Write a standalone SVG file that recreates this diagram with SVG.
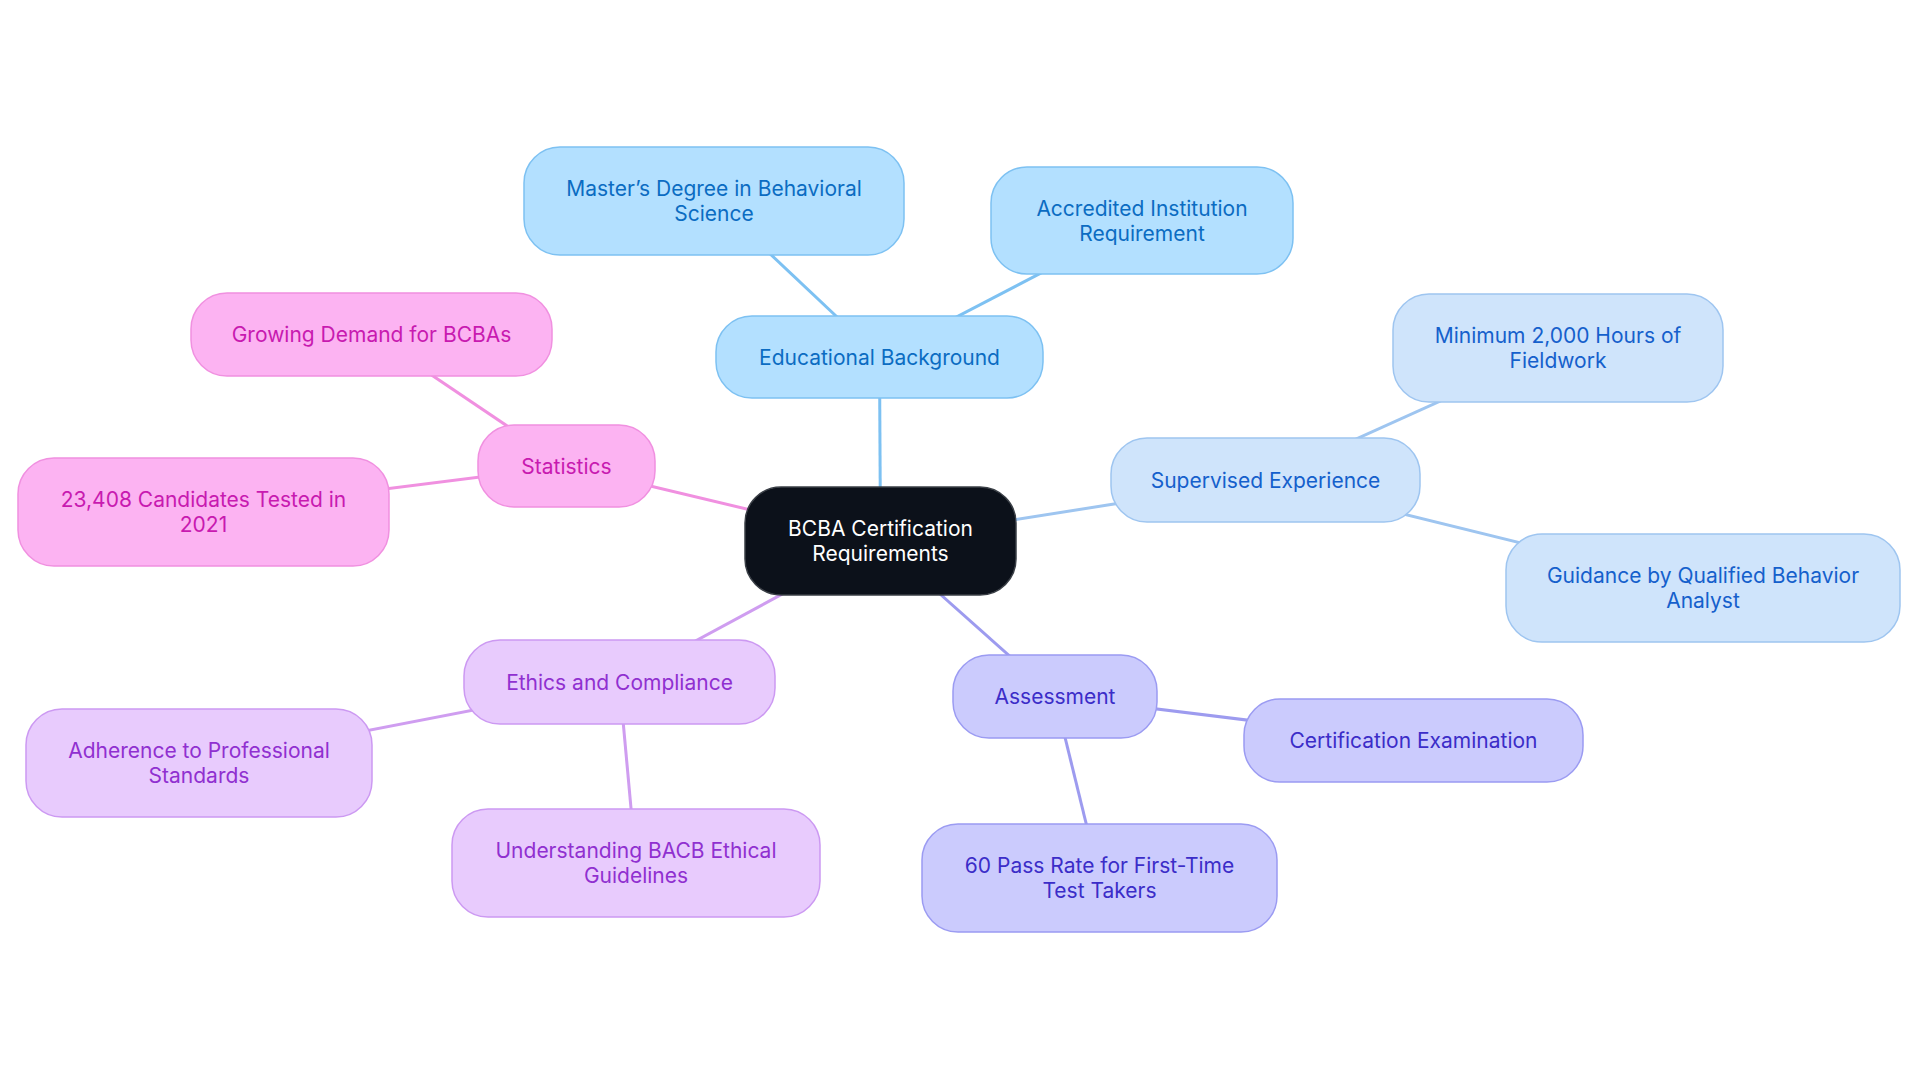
<svg xmlns="http://www.w3.org/2000/svg" width="1920" height="1083" viewBox="0 0 1920 1083">
<style>
text{font-family:Inter,"Noto Sans","Liberation Sans",sans-serif;font-size:21px;text-anchor:middle;dominant-baseline:central}
.c rect{fill:#0c111a;stroke:#3a3f46;stroke-width:1.5}
.c text{fill:#ffffff}
.e rect{fill:#b3e0ff;stroke:#7dc1f2;stroke-width:1.5}
.e text{fill:#0b6cc2}
.s rect{fill:#cfe4fb;stroke:#9ec5f0;stroke-width:1.5}
.s text{fill:#1560cc}
.a rect{fill:#cbcbfd;stroke:#9b9bf2;stroke-width:1.5}
.a text{fill:#3b2dc8}
.k rect{fill:#e8cbfd;stroke:#cc99f2;stroke-width:1.5}
.k text{fill:#9030d0}
.p rect{fill:#fcb3f2;stroke:#f090e0;stroke-width:1.5}
.p text{fill:#c81ab0}
#connectors line{stroke-width:3;fill:none}
</style>
<rect width="1920" height="1083" fill="#ffffff"/>
<g id="connectors">
<line x1="880.5" y1="541" x2="879.5" y2="357" stroke="#7dc1f2"/>
<line x1="879.5" y1="357" x2="714" y2="201" stroke="#7dc1f2"/>
<line x1="879.5" y1="357" x2="1142" y2="220.5" stroke="#7dc1f2"/>
<line x1="880.5" y1="541" x2="1265.5" y2="480" stroke="#9ec5f0"/>
<line x1="1265.5" y1="480" x2="1558" y2="348" stroke="#9ec5f0"/>
<line x1="1265.5" y1="480" x2="1703" y2="588" stroke="#9ec5f0"/>
<line x1="880.5" y1="541" x2="1055" y2="696.5" stroke="#9d9bef"/>
<line x1="1055" y1="696.5" x2="1413.5" y2="740.5" stroke="#9d9bef"/>
<line x1="1055" y1="696.5" x2="1099.5" y2="878" stroke="#9d9bef"/>
<line x1="880.5" y1="541" x2="619.5" y2="682" stroke="#cf9df0"/>
<line x1="619.5" y1="682" x2="199" y2="763" stroke="#cf9df0"/>
<line x1="619.5" y1="682" x2="636" y2="863" stroke="#cf9df0"/>
<line x1="880.5" y1="541" x2="566.5" y2="466" stroke="#f090e0"/>
<line x1="566.5" y1="466" x2="371.5" y2="334.5" stroke="#f090e0"/>
<line x1="566.5" y1="466" x2="203.5" y2="512" stroke="#f090e0"/>
</g>
<g id="n-center" class="c"><rect x="745" y="487" width="271" height="108" rx="36"/><text x="880.5" y="528.5">BCBA Certification</text><text x="880.5" y="553.5">Requirements</text></g>
<g id="n-edu" class="e"><rect x="716" y="316" width="327" height="82" rx="36"/><text x="879.5" y="357">Educational Background</text></g>
<g id="n-masters" class="e"><rect x="524" y="147" width="380" height="108" rx="36"/><text x="714" y="188.5">Master’s Degree in Behavioral</text><text x="714" y="213.5">Science</text></g>
<g id="n-accredited" class="e"><rect x="991" y="167" width="302" height="107" rx="36"/><text x="1142" y="208">Accredited Institution</text><text x="1142" y="233">Requirement</text></g>
<g id="n-supervised" class="s"><rect x="1111" y="438" width="309" height="84" rx="36"/><text x="1265.5" y="480">Supervised Experience</text></g>
<g id="n-minimum" class="s"><rect x="1393" y="294" width="330" height="108" rx="36"/><text x="1558" y="335.5">Minimum 2,000 Hours of</text><text x="1558" y="360.5">Fieldwork</text></g>
<g id="n-guidance" class="s"><rect x="1506" y="534" width="394" height="108" rx="36"/><text x="1703" y="575.5">Guidance by Qualified Behavior</text><text x="1703" y="600.5">Analyst</text></g>
<g id="n-assessment" class="a"><rect x="953" y="655" width="204" height="83" rx="36"/><text x="1055" y="696.5">Assessment</text></g>
<g id="n-exam" class="a"><rect x="1244" y="699" width="339" height="83" rx="36"/><text x="1413.5" y="740.5">Certification Examination</text></g>
<g id="n-pass" class="a"><rect x="922" y="824" width="355" height="108" rx="36"/><text x="1099.5" y="865.5">60 Pass Rate for First-Time</text><text x="1099.5" y="890.5">Test Takers</text></g>
<g id="n-ethics" class="k"><rect x="464" y="640" width="311" height="84" rx="36"/><text x="619.5" y="682">Ethics and Compliance</text></g>
<g id="n-adherence" class="k"><rect x="26" y="709" width="346" height="108" rx="36"/><text x="199" y="750.5">Adherence to Professional</text><text x="199" y="775.5">Standards</text></g>
<g id="n-understanding" class="k"><rect x="452" y="809" width="368" height="108" rx="36"/><text x="636" y="850.5">Understanding BACB Ethical</text><text x="636" y="875.5">Guidelines</text></g>
<g id="n-statistics" class="p"><rect x="478" y="425" width="177" height="82" rx="36"/><text x="566.5" y="466">Statistics</text></g>
<g id="n-growing" class="p"><rect x="191" y="293" width="361" height="83" rx="36"/><text x="371.5" y="334.5">Growing Demand for BCBAs</text></g>
<g id="n-candidates" class="p"><rect x="18" y="458" width="371" height="108" rx="36"/><text x="203.5" y="499.5">23,408 Candidates Tested in</text><text x="203.5" y="524.5">2021</text></g>
</svg>
